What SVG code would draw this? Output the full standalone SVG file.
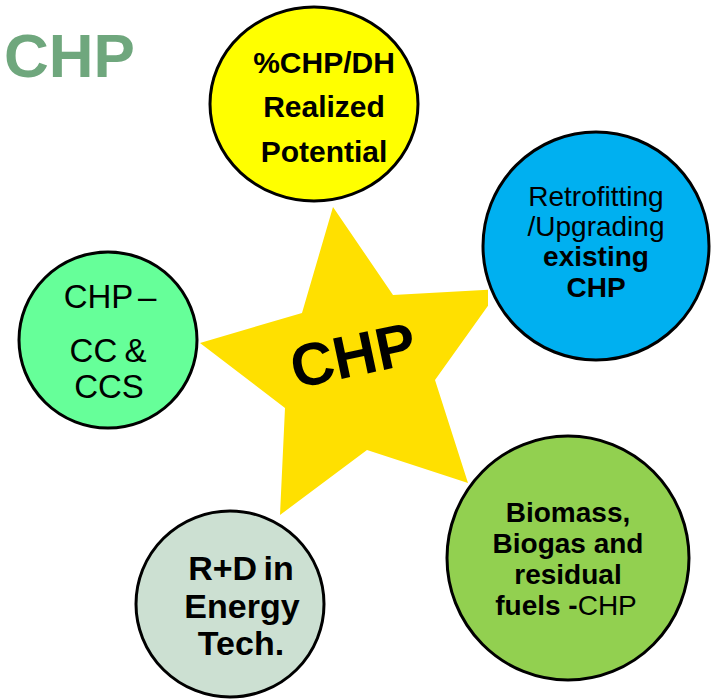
<svg xmlns="http://www.w3.org/2000/svg" width="717" height="700" viewBox="0 0 717 700">
  <style>
    text { font-family: "Liberation Sans", Arial, sans-serif; fill: #000; text-anchor: middle; }
    .b { font-weight: bold; }
    .ring { stroke: #000; stroke-width: 3; }
  </style>
  <rect width="717" height="700" fill="#fff"/>

  <!-- page title -->
  <text x="4" y="77" style="text-anchor:start; font-size:62px; font-weight:bold; fill:#6FA77D">CHP</text>

  <!-- central star -->
  <g id="star">
    <polygon fill="#FFE000" points="333,207 393,295 488,289.7 488,305.8 435,380 468,483 367,450 280,515 285,408 200,343 302,313"/>
    <text class="b" transform="translate(353,355) rotate(-12)" y="21" style="font-size:60px">CHP</text>
  </g>

  <!-- surrounding topics -->
  <g id="realized-potential">
    <ellipse class="ring" cx="314" cy="104" rx="104" ry="97" fill="#FFFF00"/>
    <text class="b" x="324" y="73" style="font-size:30px">%CHP/DH</text>
    <text class="b" x="324" y="117" style="font-size:30px">Realized</text>
    <text class="b" x="324" y="162" style="font-size:30px">Potential</text>
  </g>

  <g id="retrofitting">
    <ellipse class="ring" cx="596" cy="246" rx="113" ry="114" fill="#00B0F0"/>
    <text x="596" y="206" style="font-size:28px">Retrofitting</text>
    <text x="596" y="236" style="font-size:28px">/Upgrading</text>
    <text class="b" x="596" y="266" style="font-size:28px">existing</text>
    <text class="b" x="596" y="297" style="font-size:28px">CHP</text>
  </g>

  <g id="biomass">
    <ellipse class="ring" cx="568" cy="558" rx="121" ry="122" fill="#92D050"/>
    <text class="b" x="568" y="522" style="font-size:28px">Biomass,</text>
    <text class="b" x="568" y="553" style="font-size:28px">Biogas and</text>
    <text class="b" x="568" y="584" style="font-size:28px">residual</text>
    <text x="566" y="615" style="font-size:28px"><tspan class="b">fuels -</tspan>CHP</text>
  </g>

  <g id="research">
    <ellipse class="ring" cx="230" cy="604" rx="94" ry="93" fill="#CCE0D2"/>
    <text class="b" x="241" y="580" style="font-size:34px; word-spacing:-3px">R+D in</text>
    <text class="b" x="242" y="618" style="font-size:34px">Energy</text>
    <text class="b" x="241" y="655" style="font-size:34px">Tech.</text>
  </g>

  <g id="carbon-capture">
    <ellipse class="ring" cx="108" cy="340" rx="89" ry="88" fill="#66FF99"/>
    <text x="110" y="308" style="font-size:33px; word-spacing:-4px">CHP –</text>
    <text x="108" y="362" style="font-size:33px; word-spacing:-2px">CC &amp;</text>
    <text x="109" y="398" style="font-size:33px">CCS</text>
  </g>
</svg>
